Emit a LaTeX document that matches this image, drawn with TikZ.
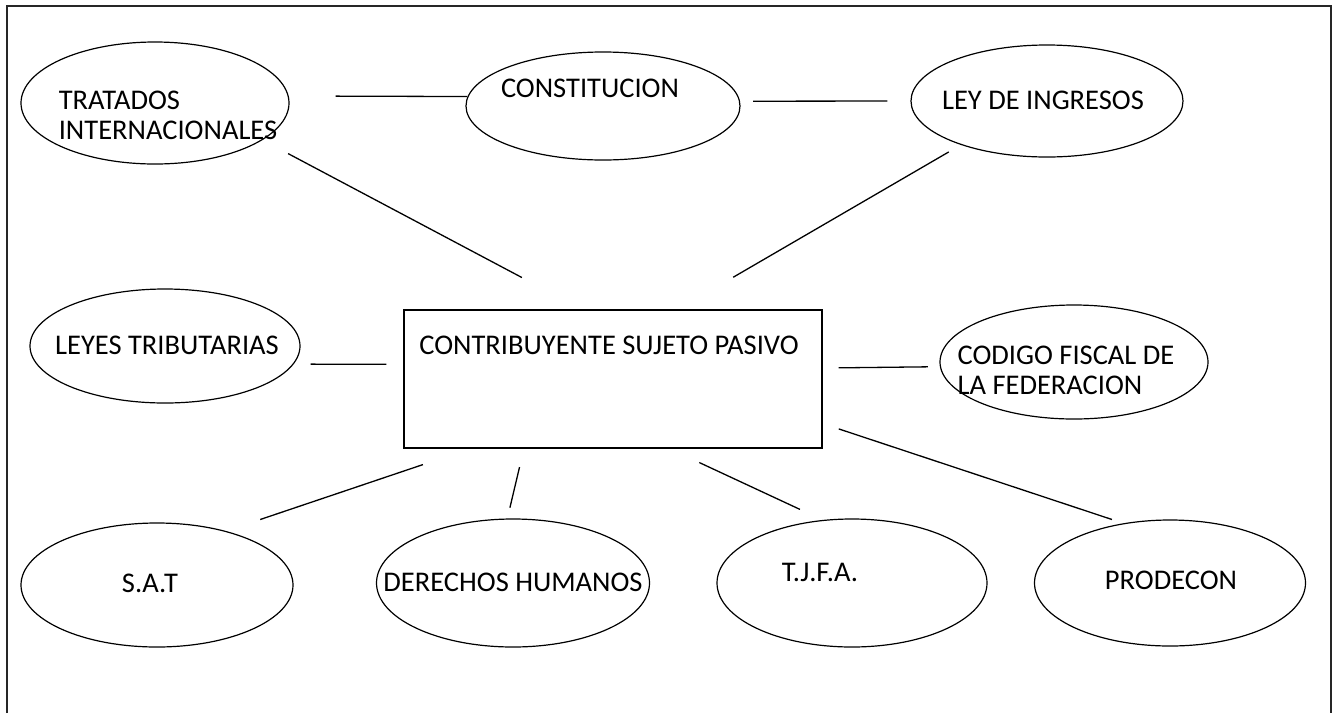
\documentclass[tikz,border=0pt]{standalone}
\usepackage{fontspec}
\setmainfont{Carlito}
\usetikzlibrary{shapes.geometric}

\begin{document}
\begin{tikzpicture}[x=1pt, y=-1pt, line width=1.2pt,
  every node/.style={font=\fontsize{28.5}{30}\selectfont},
  bubble/.style={draw, ellipse, inner sep=0pt, minimum width=270pt, minimum height=124pt},
  box/.style={draw, rectangle, inner sep=0pt, minimum width=418pt, minimum height=138pt},
  link/.style={line width=1.3pt}]
  \useasboundingbox (0,0) rectangle (1336,713);
  \draw[line width=2pt, black!85] (7,713) -- (7,6) -- (1331,6) -- (1331,713);

  \node[box, label={[shift={(-4,-34)}]center:CONTRIBUYENTE SUJETO PASIVO}] (main) at (613,379) {};
  \node[bubble, minimum width=268pt, minimum height=122pt, label={[align=left, shift={(13,12)}]center:TRATADOS\\INTERNACIONALES}] (trat) at (155,103) {};
  \node[bubble, minimum width=274pt, minimum height=108pt, label={[shift={(-13,-18)}]center:CONSTITUCION}] (const) at (603,106) {};
  \node[bubble, minimum width=272pt, minimum height=112pt, label={[shift={(-4,-1)}]center:LEY DE INGRESOS}] (ley) at (1047,101) {};
  \node[bubble, minimum height=114pt, label={[shift={(2,-1)}]center:LEYES TRIBUTARIAS}] (leyes) at (165,346) {};
  \node[bubble, minimum width=268pt, minimum height=114pt, label={[align=left, shift={(-8,8)}]center:CODIGO FISCAL DE\\LA FEDERACION}] (cod) at (1074,362) {};
  \node[bubble, minimum width=272pt, label={[shift={(-7,-2)}]center:S.A.T}] (sat) at (157,585) {};
  \node[bubble, minimum width=273pt, minimum height=128pt, label={[shift={(0,-1)}]center:DERECHOS HUMANOS}] (der) at (513,583) {};
  \node[bubble, minimum height=128pt, label={[shift={(-32,-11)}]center:T.J.F.A.}] (tjfa) at (852,583) {};
  \node[bubble, minimum width=271pt, minimum height=126pt, label={[shift={(1,-3)}]center:PRODECON}] (pro) at (1170,583) {};

  % lineas sueltas entre conceptos
  \draw[link, shorten <=47pt] (trat.3) -- (const.176);
  \draw[link, shorten <=13pt, shorten >=23pt] (const.2) -- (ley.west);
  \draw[link, shorten <=29pt, shorten >=68pt] (trat.-19) -- (main.114);
  \draw[link, shorten <=14pt, shorten >=64pt] (ley.207) -- (main.47);
  \draw[link, shorten <=17pt, shorten >=17pt] (leyes.-8) -- (main.176);
  \draw[link, shorten <=16pt, shorten >=12pt] (main.3) -- (cod.182);
  \draw[link, shorten <=50pt, shorten >=36pt] (main.-154) -- (sat.38);
  \draw[link, shorten <=19pt, shorten >=11pt] (main.-142) -- (der.95);
  \draw[link, shorten <=33pt, shorten >=25pt] (main.-51) -- (tjfa.115);
  \draw[link, shorten <=17pt, shorten >=12pt] (main.-12) -- (pro.128);
\end{tikzpicture}
\end{document}
